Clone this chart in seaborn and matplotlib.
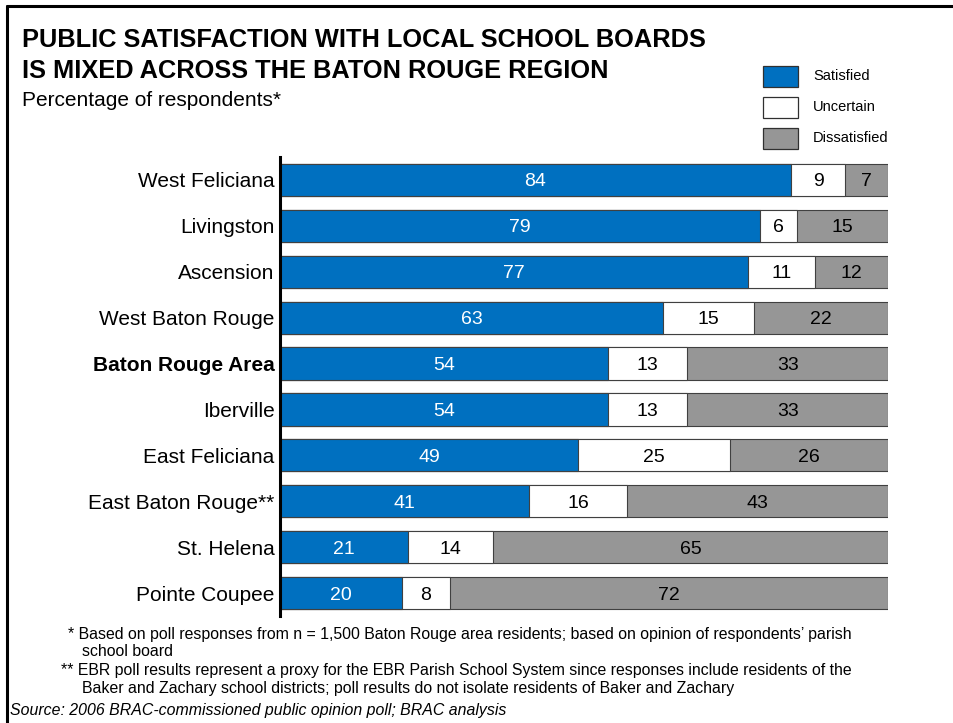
import matplotlib
matplotlib.use("Agg")
import matplotlib.pyplot as plt
from matplotlib.patches import Rectangle
from matplotlib.lines import Line2D
import numpy as np
import pandas as pd
import seaborn as sns

# Survey results by parish (percent of respondents)
parishes = ["West Feliciana", "Livingston", "Ascension", "West Baton Rouge",
            "Baton Rouge Area", "Iberville", "East Feliciana",
            "East Baton Rouge**", "St. Helena", "Pointe Coupee"]
satisfied = [84, 79, 77, 63, 54, 54, 49, 41, 21, 20]
uncertain = [9, 6, 11, 15, 13, 13, 25, 16, 14, 8]
dissatisfied = [7, 15, 12, 22, 33, 33, 26, 43, 65, 72]

series_names = ["Satisfied", "Uncertain", "Dissatisfied"]
colors = {"Satisfied": "#0070C0", "Uncertain": "#FFFFFF", "Dissatisfied": "#969696"}
text_colors = {"Satisfied": "white", "Uncertain": "black", "Dissatisfied": "black"}

sns.set_theme(style="white")
plt.rcParams["font.family"] = ["Liberation Sans", "DejaVu Sans"]
plt.rcParams["text.color"] = "black"

df = pd.DataFrame({"parish": parishes, "Satisfied": satisfied,
                   "Uncertain": uncertain, "Dissatisfied": dissatisfied})
df["cum_sat"] = df["Satisfied"]
df["cum_unc"] = df["Satisfied"] + df["Uncertain"]
df["cum_all"] = df["cum_unc"] + df["Dissatisfied"]

W, H = 954, 723
fig = plt.figure(figsize=(W / 100, H / 100), dpi=100)
ax = fig.add_axes([280 / W, 1 - 616 / H, 608 / W, (616 - 157) / H])

# Stacked bars drawn as overlapping cumulative totals (widest first)
for col, name in [("cum_all", "Dissatisfied"), ("cum_unc", "Uncertain"), ("cum_sat", "Satisfied")]:
    sns.barplot(data=df, x=col, y="parish", orient="h", color=colors[name],
                saturation=1, width=0.7, edgecolor="#404040", linewidth=0.8, ax=ax)

# Segment value labels
for i, row in df.iterrows():
    left = 0
    for name in series_names:
        v = row[name]
        ax.text(left + v / 2, i, f"{v}", ha="center", va="center_baseline",
                fontsize=14, color=text_colors[name])
        left += v

ax.set_xlim(0, 100)
ax.set_ylim(9.5, -0.5)
ax.set_xlabel("")
ax.set_ylabel("")
ax.set_xticks([])
for s in ["top", "right", "bottom"]:
    ax.spines[s].set_visible(False)
ax.spines["left"].set_linewidth(2.2)
ax.spines["left"].set_color("black")
ax.tick_params(axis="y", length=0, pad=4, labelsize=15, labelcolor="black")
for lbl in ax.get_yticklabels():
    if lbl.get_text() == "Baton Rouge Area":
        lbl.set_fontweight("bold")

# Title block
fig.text(22 / W, 1 - 40 / H, "PUBLIC SATISFACTION WITH LOCAL SCHOOL BOARDS",
         fontsize=18.3, fontweight="bold", va="center", ha="left")
fig.text(22 / W, 1 - 71 / H, "IS MIXED ACROSS THE BATON ROUGE REGION",
         fontsize=18.3, fontweight="bold", va="center", ha="left")
fig.text(22 / W, 1 - 100 / H, "Percentage of respondents*",
         fontsize=15, va="center", ha="left")

# Legend
leg_rows = [(76, "Satisfied"), (107, "Uncertain"), (138, "Dissatisfied")]
for yc, name in leg_rows:
    fig.add_artist(Rectangle((763 / W, 1 - (yc + 10.5) / H), 35 / W, 21 / H,
                             facecolor=colors[name], edgecolor="#303030",
                             linewidth=0.9, transform=fig.transFigure))
    fig.text(813 / W, 1 - yc / H, name, fontsize=10.5, va="center", ha="left")

# Footnotes
foot = [
    (68, 634, "* Based on poll responses from n = 1,500 Baton Rouge area residents; based on opinion of respondents\u2019 parish"),
    (82, 651, "school board"),
    (61, 670, "** EBR poll results represent a proxy for the EBR Parish School System since responses include residents of the"),
    (82, 689, "Baker and Zachary school districts; poll results do not isolate residents of Baker and Zachary"),
]
for x, y, t in foot:
    fig.text(x / W, 1 - y / H, t, fontsize=11.4, va="center", ha="left")
fig.text(10 / W, 1 - 711 / H, "Source: 2006 BRAC-commissioned public opinion poll; BRAC analysis",
         fontsize=11.4, style="italic", va="center", ha="left")

# Frame lines (left and top)
fig.add_artist(Line2D([7 / W, 7 / W], [0, 1 - 6 / H], color="black", linewidth=2.2,
                      transform=fig.transFigure))
fig.add_artist(Line2D([7 / W, 1], [1 - 6 / H, 1 - 6 / H], color="black", linewidth=2.2,
                      transform=fig.transFigure))

fig.savefig("out.png", dpi=100)
